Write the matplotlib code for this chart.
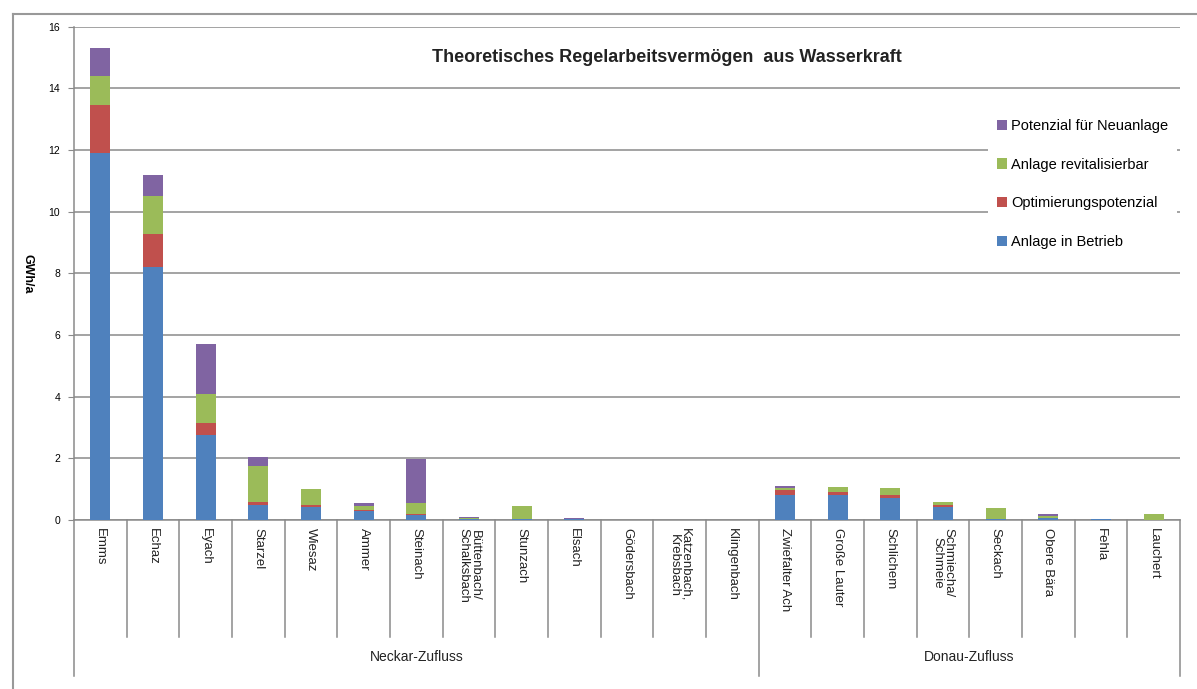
import matplotlib.pyplot as plt
from matplotlib.lines import Line2D
import numpy as np

plt.rcParams['font.family'] = ['Liberation Sans', 'DejaVu Sans']

gewaesser = ["Emms", "Echaz", "Eyach", "Starzel", "Wiesaz", "Ammer", "Steinach",
             "Büttenbach/\nSchalksbach", "Stunzach", "Elsach", "Gödersbach",
             "Katzenbach,\nKrebsbach", "Klingenbach", "Zwiefalter Ach", "Große Lauter",
             "Schlichem", "Schmiecha/\nSchmeie", "Seckach", "Obere Bära", "Fehla", "Lauchert"]
gruppen = ["Neckar-Zufluss", "Donau-Zufluss"]
gruppen_n = [13, 8]

# GWh/a je Kategorie
in_betrieb = [11.9, 8.2, 2.76, 0.49, 0.41, 0.28, 0.17, 0.03, 0.03, 0.02, 0, 0, 0,
              0.82, 0.80, 0.72, 0.43, 0.02, 0.06, 0.02, 0.01]
optimierung = [1.55, 1.07, 0.38, 0.08, 0.08, 0.04, 0.02, 0, 0, 0, 0, 0, 0,
               0.15, 0.12, 0.09, 0.05, 0, 0, 0, 0]
revitalisierbar = [0.95, 1.25, 0.95, 1.18, 0.50, 0.12, 0.37, 0.02, 0.42, 0.01, 0, 0, 0,
                   0.08, 0.16, 0.22, 0.10, 0.36, 0.06, 0.01, 0.17]
neuanlage = [0.90, 0.68, 1.61, 0.30, 0.0, 0.12, 1.42, 0.04, 0.02, 0.03, 0, 0, 0,
             0.05, 0.0, 0.02, 0.02, 0, 0.06, 0.01, 0]

serien = [("Anlage in Betrieb", in_betrieb, "#4F81BD"),
          ("Optimierungspotenzial", optimierung, "#C0504D"),
          ("Anlage revitalisierbar", revitalisierbar, "#9BBB59"),
          ("Potenzial für Neuanlage", neuanlage, "#8064A2")]

W, H = 1197, 689
fig = plt.figure(figsize=(W / 100, H / 100), dpi=100)
ax = fig.add_axes([74 / W, 1 - 520 / H, (1180 - 74) / W, (520 - 26.7) / H])

x = np.arange(len(gewaesser))
unten = np.zeros(len(gewaesser))
balken = []
for name, werte, farbe in serien:
    b = ax.bar(x, werte, 0.38, bottom=unten, color=farbe, label=name, zorder=3)
    balken.append(b)
    unten += np.array(werte)

grau = "#8a8a8a"
ax.set_xlim(-0.5, len(gewaesser) - 0.5)
ax.set_ylim(0, 16)
ax.set_yticks(range(0, 17, 2))
ax.yaxis.grid(True, color=grau, lw=1.1)
ax.set_axisbelow(True)
for s in ["top", "right"]:
    ax.spines[s].set_visible(False)
for s in ["left", "bottom"]:
    ax.spines[s].set_color(grau)
    ax.spines[s].set_linewidth(1.1)
ax.tick_params(axis="y", direction="out", length=4, color=grau, labelsize=7.5, pad=6)
ax.set_xticks(x)
ax.set_xticklabels(gewaesser, rotation=-90, va="top", ha="center", fontsize=9.5,
                   color="#222222", linespacing=0.95)
ax.tick_params(axis="x", length=0, pad=6)

# Trennlinien der Kategorien und Gruppen unter der Achse
trans = ax.get_xaxis_transform()
grenzen = np.cumsum([0] + gruppen_n) - 0.5
for g in np.arange(len(gewaesser) + 1) - 0.5:
    tief = -0.316 if g in grenzen else -0.237
    ax.plot([g, g], [0, tief], color=grau, lw=1.1, transform=trans, clip_on=False)
for i, name in enumerate(gruppen):
    mitte = (grenzen[i] + grenzen[i + 1]) / 2
    ax.text(mitte, -0.278, name, transform=trans, ha="center", va="center",
            fontsize=10, color="#222222")

ax.text(-0.0416, 0.5, "GWh/a", transform=ax.transAxes, rotation=-90, ha="center",
        va="center", fontsize=9, fontweight="bold")

fig.text(0.557, 1 - 57 / H, "Theoretisches Regelarbeitsvermögen  aus Wasserkraft",
         ha="center", va="center", fontsize=13, fontweight="bold", color="#222222")

leg = ax.legend(balken[::-1], [s[0] for s in serien[::-1]],
                loc="upper left", bbox_to_anchor=(988 / W, 1 - 110 / H),
                bbox_transform=fig.transFigure, frameon=True, fancybox=False,
                edgecolor="none", facecolor="white", framealpha=1, fontsize=10.5,
                handlelength=0.7, handleheight=0.7, handletextpad=0.3,
                labelspacing=1.7, borderpad=0.6, borderaxespad=0)

# Rahmen um die Grafik
fig.add_artist(Line2D([13 / W, 1], [1 - 14 / H, 1 - 14 / H], color="#999999", lw=1.5))
fig.add_artist(Line2D([13 / W, 13 / W], [0, 1 - 14 / H], color="#999999", lw=1.5))

fig.savefig("out.png", dpi=100)
